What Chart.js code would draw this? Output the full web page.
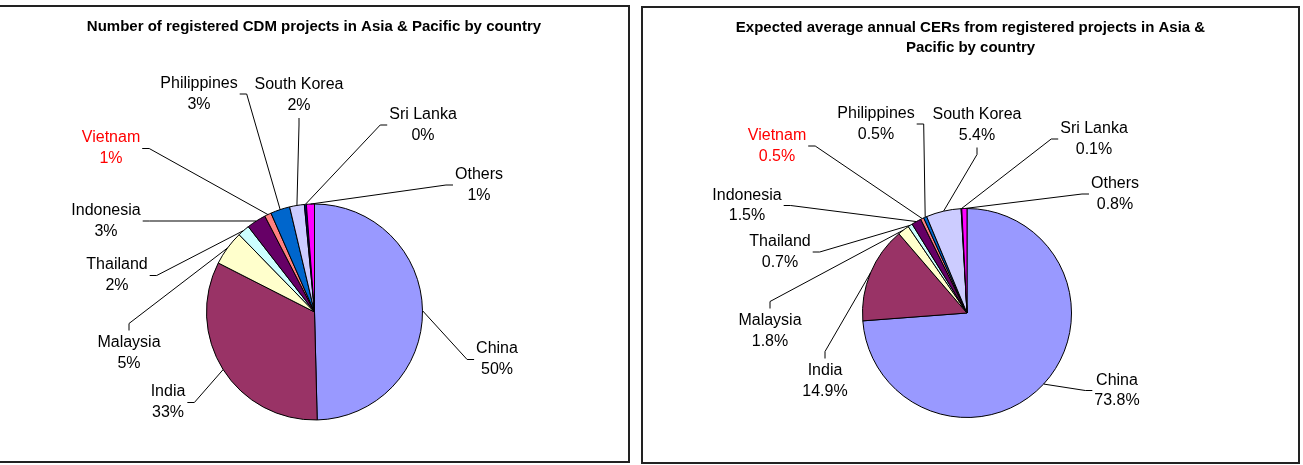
<!DOCTYPE html>
<html><head><meta charset="utf-8">
<script src="https://cdn.jsdelivr.net/npm/chart.js@4"></script>
<style>
html,body{margin:0;padding:0;background:#fff;width:1303px;height:465px;overflow:hidden;}
.box{position:absolute;border:2px solid #222;background:#fff;box-sizing:border-box;}
#boxA{left:-2px;top:5px;width:632px;height:458px;}
#boxB{left:641px;top:6px;width:659px;height:458px;}
canvas{display:block}
</style></head><body>
<div class="box" id="boxA"><canvas id="cA" width="628" height="454"></canvas></div>
<div class="box" id="boxB"><canvas id="cB" width="655" height="454"></canvas></div>
<script>
// ---- data ----
const countries = ['China','India','Malaysia','Thailand','Indonesia','Vietnam','Philippines','South Korea','Sri Lanka','Others'];
const projectShares = [49.6, 32.9, 5.2, 1.8, 2.9, 1.0, 2.9, 2.2, 0.3, 1.2];
const cerShares = [73.8, 14.9, 1.8, 0.7, 1.5, 0.5, 0.5, 5.4, 0.1, 0.8];
const titleA = ['Number of registered CDM projects in Asia & Pacific by country'];
const titleB = ['Expected average annual CERs from registered projects in Asia &', 'Pacific by country'];
const highlighted = 'Vietnam';

// ---- style / layout ----
const sliceColors = ['#9999FF','#993366','#FFFFCC','#CCFFFF','#660066','#FF8080','#0066CC','#CCCCFF','#000080','#FF00FF'];
// label block centre offsets from pie centre (px) and the side the leader joins
const spotsA = [[182.5,47.5,'left'],[-146.5,90.5,'right'],[-185.5,41.5,'top'],[-197.5,-36.5,'right'],[-208.5,-91,'right'],
                [-203.5,-163.5,'right'],[-115.5,-218,'right'],[-15.5,-217,'bottom'],[108.5,-187,'left'],[164.5,-127,'left']];
const spotsB = [[150,77.5,'left'],[-142,68,'top'],[-197,18,'top'],[-187,-61,'right'],[-220,-107.5,'right'],
                [-190,-167,'right'],[-91,-189,'right'],[10,-188,'bottom'],[127,-174,'left'],[148,-119,'left']];

const FONT = '"Liberation Sans", Arial, Helvetica, sans-serif';

const calloutPlugin = {
  id: 'callouts',
  afterDatasetsDraw(chart, args, opts) {
    const ctx = chart.ctx;
    const meta = chart.getDatasetMeta(0);
    const data = chart.data.datasets[0].data;
    const total = data.reduce((a, b) => a + b, 0);
    ctx.save();
    ctx.textAlign = 'center';
    ctx.textBaseline = 'middle';
    ctx.fillStyle = '#000';
    ctx.font = 'bold ' + opts.titleSize + 'px ' + FONT;
    opts.title.forEach((t, i) => ctx.fillText(t, chart.width / 2, opts.titleY + i * opts.titleLH));
    ctx.font = '16px ' + FONT;
    const lh = opts.lineH;
    meta.data.forEach((arc, i) => {
      const p = arc.getProps(['x','y','startAngle','endAngle','outerRadius'], true);
      const mid = (p.startAngle + p.endAngle) / 2;
      const ex = p.x + Math.cos(mid) * p.outerRadius;
      const ey = p.y + Math.sin(mid) * p.outerRadius;
      const s = opts.spots[i];
      const cx = p.x + s[0], cy = p.y + s[1];
      const lines = [chart.data.labels[i], (data[i] / total * 100).toFixed(opts.decimals) + '%'];
      const w = Math.max(...lines.map(l => ctx.measureText(l).width));
      let ax, ay, bx, by;
      if (s[2] === 'left') { ax = cx - w / 2 - 2; ay = cy; bx = ax - 7; by = ay; }
      else if (s[2] === 'right') { ax = cx + w / 2 + 2; ay = cy; bx = ax + 7; by = ay; }
      else if (s[2] === 'top') { ax = cx; ay = cy - lh - 2; bx = ax; by = ay - 7; }
      else { ax = cx; ay = cy + lh + 2; bx = ax; by = ay + 7; }
      ctx.strokeStyle = '#000';
      ctx.lineWidth = 1;
      ctx.beginPath();
      ctx.moveTo(ex, ey); ctx.lineTo(bx, by); ctx.lineTo(ax, ay);
      ctx.stroke();
      ctx.fillStyle = chart.data.labels[i] === highlighted ? '#FF0000' : '#000';
      ctx.fillText(lines[0], cx, cy - lh / 2);
      ctx.fillText(lines[1], cx, cy + lh / 2);
    });
    ctx.restore();
  }
};

function makePie(id, values, padding, callouts) {
  return new Chart(document.getElementById(id), {
    type: 'pie',
    data: {
      labels: countries,
      datasets: [{
        data: values,
        backgroundColor: sliceColors,
        borderColor: '#000',
        borderWidth: 1,
        hoverBorderWidth: 1,
        hoverOffset: 0,
        offset: 0
      }]
    },
    options: {
      responsive: false,
      animation: false,
      events: [],
      layout: { padding: padding },
      plugins: {
        legend: { display: false },
        tooltip: { enabled: false },
        title: { display: false },
        callouts: callouts
      }
    },
    plugins: [calloutPlugin]
  });
}

makePie('cA', projectShares, { left: 206, right: 205, top: 196.5, bottom: 40.5 },
  { title: titleA, titleY: 20, titleLH: 20, titleSize: 15, spots: spotsA, lineH: 21, decimals: 0 });
makePie('cB', cerShares, { left: 219, right: 226, top: 200, bottom: 44 },
  { title: titleB, titleY: 20, titleLH: 20, titleSize: 15, spots: spotsB, lineH: 20.5, decimals: 1 });
</script>
</body></html>
